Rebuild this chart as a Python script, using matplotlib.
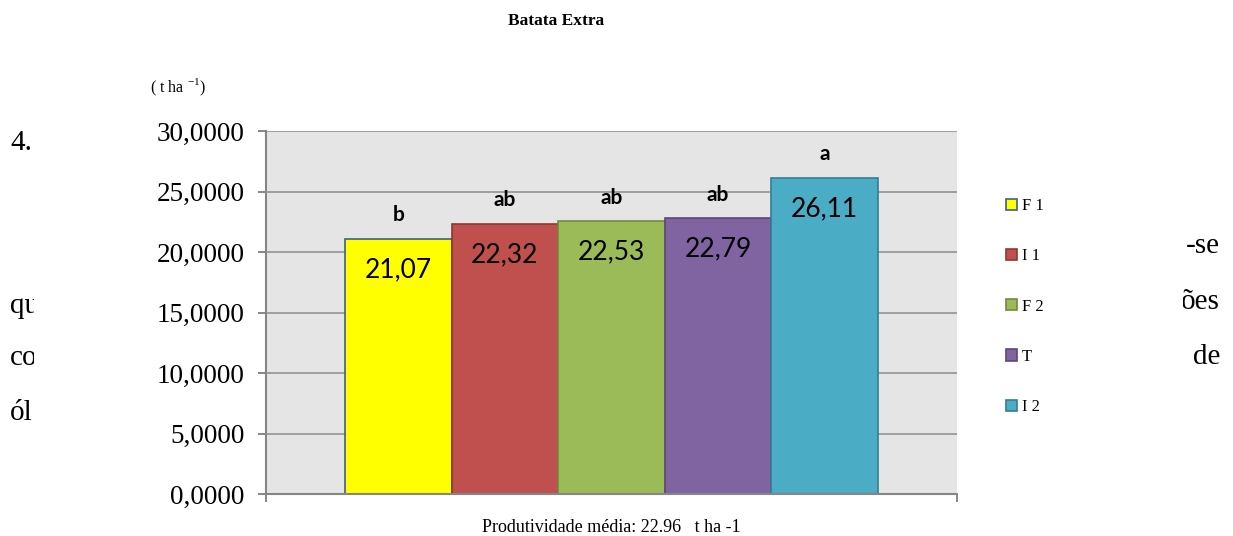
import numpy as np
import matplotlib
matplotlib.use("Agg")
import matplotlib.pyplot as plt
from matplotlib.patches import Rectangle

# data
treatments = ["F 1", "I 1", "F 2", "T", "I 2"]
yields = [21.07, 22.32, 22.53, 22.79, 26.11]
letters = ["b", "ab", "ab", "ab", "a"]
mean_yield = 22.96
y_ticks = [0, 5, 10, 15, 20, 25, 30]

bar_colors = ["#FFFF00", "#C0504D", "#9BBB59", "#8064A2", "#4BACC6"]
edge_colors = ["#3E5F8A", "#8C3836", "#71893F", "#5C4776", "#357D91"]

SERIF = "Liberation Serif"
SANS = "Lato"

W, H = 1233, 536
fig = plt.figure(figsize=(W / 100, H / 100), dpi=100)
fig.patch.set_facecolor("white")

# document text peeking out behind the chart
bg_left = [("4.", 143), ("qu", 306), ("co", 358), ("ól", 413)]
bg_right = [("-se", 246), ("ões", 302), ("de", 357)]
for s, yp in bg_left:
    fig.text(10 / W, 1 - yp / H, s, fontsize=21, family=SERIF, va="center", ha="left", zorder=-3)
for s, yp in bg_right:
    fig.text(1220 / W, 1 - yp / H, s, fontsize=21, family=SERIF, va="center", ha="right", zorder=-3)
fig.add_artist(Rectangle((34 / W, 0), (1183 - 34) / W, 1 - 160 / H, transform=fig.transFigure,
                         facecolor="white", edgecolor="none", zorder=-2))

ax = fig.add_axes([266 / W, 1 - 494 / H, (957 - 266) / W, (494 - 131) / H])
ax.set_facecolor("#E5E5E5")
ax.set_axisbelow(True)

x = np.arange(len(treatments)) - 2
bars = ax.bar(x, yields, width=1.0, color=bar_colors, edgecolor=edge_colors, linewidth=1.2,
              label=treatments, zorder=2)

for xi, v, lt in zip(x, yields, letters):
    ax.annotate(f"{v:.2f}".replace(".", ","), (xi, v), xytext=(0, -22), textcoords="offset points",
                ha="center", va="center", fontsize=19, family=SANS, zorder=3)
    ax.annotate(lt, (xi, v), xytext=(0, 17), textcoords="offset points",
                ha="center", va="center", fontsize=15, family=SANS, fontweight="bold", zorder=3)

ax.set_xlim(-3.24, 3.24)
ax.set_ylim(0, 30)
ax.set_yticks(y_ticks)
ax.set_yticklabels([f"{t:.4f}".replace(".", ",") for t in y_ticks], family=SERIF, fontsize=19.5)
ax.set_xticks([-3.24, 3.24])
ax.set_xticklabels(["", ""])
ax.tick_params(axis="both", direction="out", length=5.5, width=1.4, color="#868686")
ax.tick_params(axis="y", pad=10)
ax.yaxis.grid(True, color="#8C8C8C", linewidth=1.1)

for side in ["top", "right"]:
    ax.spines[side].set_visible(False)
for side in ["left", "bottom"]:
    ax.spines[side].set_color("#868686")
    ax.spines[side].set_linewidth(1.5)

fig.text(556 / W, 1 - 21 / H, "Batata Extra", fontsize=12.5, family=SERIF, fontweight="bold",
         ha="center", va="center")
fig.text(150 / W, 1 - 87 / H, r"( t ha $^{\mathregular{-1}}$)", fontsize=11.5, family=SERIF,
         ha="left", va="center")
fig.text(611 / W, 1 - 527 / H, f"Produtividade média: {mean_yield}   t ha -1", fontsize=13,
         family=SERIF, ha="center", va="center")

leg = ax.legend(handles=list(bars), labels=treatments, loc="upper left",
                bbox_to_anchor=(998 / W, 1 - 190 / H), bbox_transform=fig.transFigure,
                frameon=False, borderpad=0, handlelength=0.65, handleheight=0.65,
                handletextpad=0.3, labelspacing=2.05, prop={"family": SERIF, "size": 12})

fig.savefig("out.png", dpi=100)
